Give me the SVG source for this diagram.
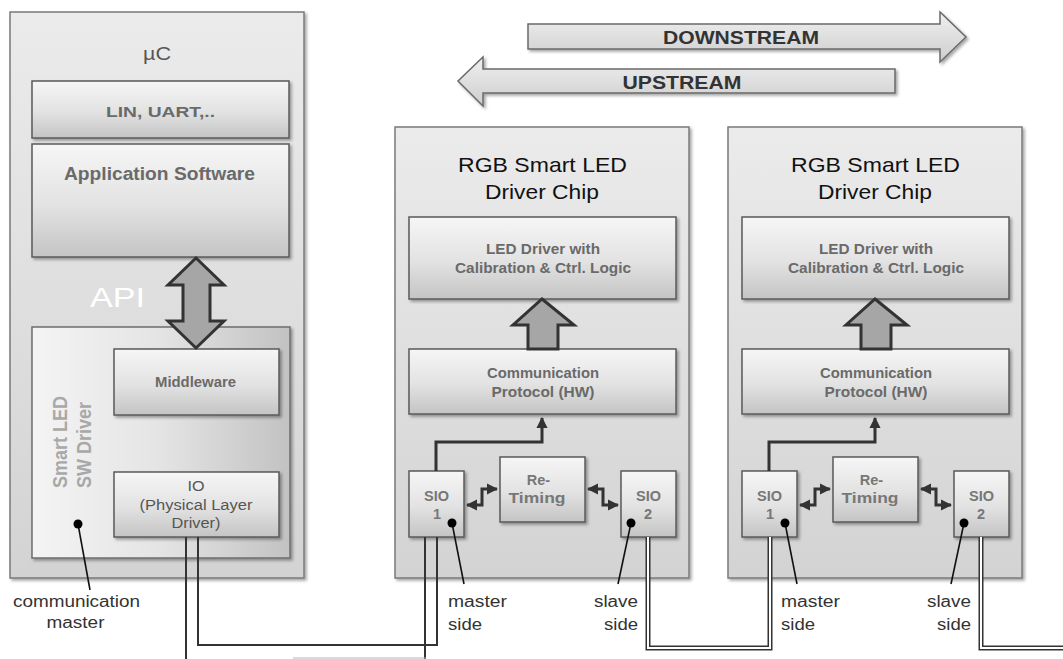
<svg xmlns="http://www.w3.org/2000/svg" width="1063" height="659" viewBox="0 0 1063 659">
<defs>
<linearGradient id="gOuter" x1="0" y1="0" x2="0" y2="1"><stop offset="0" stop-color="#ebebeb"/><stop offset="1" stop-color="#d3d3d3"/></linearGradient>
<linearGradient id="gInner" x1="0" y1="0" x2="0" y2="1"><stop offset="0" stop-color="#f6f6f6"/><stop offset="0.55" stop-color="#e2e2e2"/><stop offset="1" stop-color="#c4c4c4"/></linearGradient>
<linearGradient id="gSide" x1="0" y1="0" x2="1" y2="0"><stop offset="0" stop-color="#f4f4f4"/><stop offset="0.5" stop-color="#e4e4e4"/><stop offset="1" stop-color="#c2c2c2"/></linearGradient>
<linearGradient id="gFlow" x1="0" y1="0" x2="0" y2="1"><stop offset="0" stop-color="#f0f0f0"/><stop offset="1" stop-color="#cdcdcd"/></linearGradient>
<filter id="sh" x="-10%" y="-10%" width="130%" height="130%"><feDropShadow dx="2" dy="2" stdDeviation="1.5" flood-color="#000" flood-opacity="0.35"/></filter>
<marker id="ah" viewBox="0 0 10 10" refX="9" refY="5" markerWidth="3.8" markerHeight="3.8" orient="auto-start-reverse"><path d="M0,0 L10,5 L0,10 z" fill="#333"/></marker>
<style>
.outer{fill:url(#gOuter);stroke:#7a7a7a;stroke-width:1.5;filter:url(#sh)}
.inner{fill:url(#gInner);stroke:#5a5a5a;stroke-width:1.5;filter:url(#sh)}
.side{fill:url(#gSide);stroke:#6e6e6e;stroke-width:1.5;filter:url(#sh)}
.flow{fill:url(#gFlow);stroke:#6a6a6a;stroke-width:1.5;filter:url(#sh)}
.fat{fill:#a6a6a6;stroke:#333;stroke-width:3;stroke-linejoin:miter}
.t{font-family:"Liberation Sans",Arial,sans-serif;text-anchor:middle}
.b{font-weight:bold;fill:#6a6a6a}
.s{font-size:14.5px;fill:#777}
.lbl{font-family:"Liberation Sans",Arial,sans-serif;font-size:16px;fill:#333}
.w1{fill:none;stroke:#333;stroke-width:2}
.wd{fill:none;stroke:#333;stroke-width:5}
.wi{fill:none;stroke:#fff;stroke-width:2}
.arr{fill:none;stroke:#333;stroke-width:3}
.ptr{stroke:#111;stroke-width:1.6}
</style>
</defs>

<g id="flow-arrows">
<g id="downstream">
<path class="flow" d="M528,24 H940 V12 L966,37 L940,62 V49 H528 Z"/>
<text class="t" x="741" y="44" font-size="18" font-weight="bold" fill="#333" textLength="156" lengthAdjust="spacingAndGlyphs">DOWNSTREAM</text>
</g>
<g id="upstream">
<path class="flow" d="M895,69 H483 V57 L458,81 L483,106 V93 H895 Z"/>
<text class="t" x="682" y="89" font-size="18" font-weight="bold" fill="#333" textLength="119" lengthAdjust="spacingAndGlyphs">UPSTREAM</text>
</g>
</g>

<g id="uc">
<rect class="outer" x="10" y="12" width="294" height="566"/>
<text class="t" x="157" y="60" font-size="18" fill="#555" textLength="28" lengthAdjust="spacingAndGlyphs">µC</text>
</g>
<g id="lin-uart">
<rect class="inner" x="32" y="81" width="257" height="57"/>
<text class="t b" x="160.5" y="117" font-size="15" fill="#555" textLength="109" lengthAdjust="spacingAndGlyphs">LIN, UART,..</text>
</g>
<g id="app-sw">
<rect class="inner" x="32" y="144" width="257" height="113"/>
<text class="t b" x="159.5" y="180" font-size="18" textLength="191" lengthAdjust="spacingAndGlyphs">Application Software</text>
</g>
<g id="api-label">
<text class="t" x="117.5" y="307" font-size="28" fill="#fff" textLength="55" lengthAdjust="spacingAndGlyphs">API</text>
</g>
<g id="sw-driver">
<rect class="side" x="32" y="327" width="258" height="231"/>
<text class="t" x="0" y="0" font-size="18" font-weight="bold" fill="#a8a8a8" transform="translate(67,442) rotate(-90) scale(1,1.15)">Smart LED</text>
<text class="t" x="0" y="0" font-size="18" font-weight="bold" fill="#a8a8a8" transform="translate(91,445) rotate(-90) scale(1,1.15)">SW Driver</text>
</g>
<g id="middleware">
<rect class="inner" x="114" y="349" width="165" height="66"/>
<text class="t b" x="195.5" y="387" font-size="14" textLength="81" lengthAdjust="spacingAndGlyphs">Middleware</text>
</g>
<g id="io">
<rect class="inner" x="114" y="472" width="165" height="65"/>
<text class="t" x="196" y="491" font-size="14" fill="#555" textLength="17" lengthAdjust="spacingAndGlyphs">IO</text>
<text class="t" x="196" y="510" font-size="14" fill="#555" textLength="113" lengthAdjust="spacingAndGlyphs">(Physical Layer</text>
<text class="t" x="196" y="528" font-size="14" fill="#555" textLength="49" lengthAdjust="spacingAndGlyphs">Driver)</text>
</g>
<g id="comm-master-label">
<text class="lbl t" x="76.5" y="607" textLength="127" lengthAdjust="spacingAndGlyphs">communication</text>
<text class="lbl t" x="75.5" y="628" textLength="58" lengthAdjust="spacingAndGlyphs">master</text>
</g>

<g id="chip1">
<rect class="outer" x="395" y="127" width="294" height="451"/>
<text class="t" x="542.5" y="172" font-size="21" fill="#111" textLength="169" lengthAdjust="spacingAndGlyphs">RGB Smart LED</text>
<text class="t" x="542" y="199" font-size="21" fill="#111" textLength="114" lengthAdjust="spacingAndGlyphs">Driver Chip</text>
</g>
<g id="chip1-led">
<rect class="inner" x="409" y="217" width="267" height="82"/>
<text class="t b" x="543" y="254" font-size="14" fill="#7a7a7a" textLength="114" lengthAdjust="spacingAndGlyphs">LED Driver with</text>
<text class="t b" x="543" y="273" font-size="14" fill="#7a7a7a" textLength="176" lengthAdjust="spacingAndGlyphs">Calibration &amp; Ctrl. Logic</text>
</g>
<g id="chip1-proto">
<rect class="inner" x="409" y="349" width="267" height="65"/>
<text class="t b" x="543" y="378" font-size="14" fill="#7a7a7a" textLength="112" lengthAdjust="spacingAndGlyphs">Communication</text>
<text class="t b" x="543" y="397" font-size="14" fill="#7a7a7a" textLength="103" lengthAdjust="spacingAndGlyphs">Protocol (HW)</text>
</g>
<g id="chip1-sio1">
<rect class="inner" x="409" y="471" width="55" height="66"/>
<text class="t b s" x="436.5" y="501">SIO</text>
<text class="t b s" x="437" y="519">1</text>
</g>
<g id="chip1-retiming">
<rect class="inner" x="500" y="457" width="85" height="65"/>
<text class="t b s" x="538.5" y="485">Re-</text>
<text class="t b s" x="537" y="503" textLength="57" lengthAdjust="spacingAndGlyphs">Timing</text>
</g>
<g id="chip1-sio2">
<rect class="inner" x="621" y="471" width="55" height="66"/>
<text class="t b s" x="648.5" y="501">SIO</text>
<text class="t b s" x="648" y="519">2</text>
</g>
<g id="chip1-labels">
<text class="lbl" x="448" y="607" textLength="59" lengthAdjust="spacingAndGlyphs">master</text>
<text class="lbl" x="448" y="630" textLength="34" lengthAdjust="spacingAndGlyphs">side</text>
<text class="lbl" x="638" y="607" text-anchor="end" textLength="44" lengthAdjust="spacingAndGlyphs">slave</text>
<text class="lbl" x="638" y="630" text-anchor="end" textLength="34" lengthAdjust="spacingAndGlyphs">side</text>
</g>

<g id="chip2">
<rect class="outer" x="728" y="127" width="294" height="451"/>
<text class="t" x="875.5" y="172" font-size="21" fill="#111" textLength="169" lengthAdjust="spacingAndGlyphs">RGB Smart LED</text>
<text class="t" x="875" y="199" font-size="21" fill="#111" textLength="114" lengthAdjust="spacingAndGlyphs">Driver Chip</text>
</g>
<g id="chip2-led">
<rect class="inner" x="742" y="217" width="267" height="82"/>
<text class="t b" x="876" y="254" font-size="14" fill="#7a7a7a" textLength="114" lengthAdjust="spacingAndGlyphs">LED Driver with</text>
<text class="t b" x="876" y="273" font-size="14" fill="#7a7a7a" textLength="176" lengthAdjust="spacingAndGlyphs">Calibration &amp; Ctrl. Logic</text>
</g>
<g id="chip2-proto">
<rect class="inner" x="742" y="349" width="267" height="65"/>
<text class="t b" x="876" y="378" font-size="14" fill="#7a7a7a" textLength="112" lengthAdjust="spacingAndGlyphs">Communication</text>
<text class="t b" x="876" y="397" font-size="14" fill="#7a7a7a" textLength="103" lengthAdjust="spacingAndGlyphs">Protocol (HW)</text>
</g>
<g id="chip2-sio1">
<rect class="inner" x="742" y="471" width="55" height="66"/>
<text class="t b s" x="769.5" y="501">SIO</text>
<text class="t b s" x="770" y="519">1</text>
</g>
<g id="chip2-retiming">
<rect class="inner" x="833" y="457" width="85" height="65"/>
<text class="t b s" x="871.5" y="485">Re-</text>
<text class="t b s" x="870" y="503" textLength="57" lengthAdjust="spacingAndGlyphs">Timing</text>
</g>
<g id="chip2-sio2">
<rect class="inner" x="954" y="471" width="55" height="66"/>
<text class="t b s" x="981.5" y="501">SIO</text>
<text class="t b s" x="981" y="519">2</text>
</g>
<g id="chip2-labels">
<text class="lbl" x="781" y="607" textLength="59" lengthAdjust="spacingAndGlyphs">master</text>
<text class="lbl" x="781" y="630" textLength="34" lengthAdjust="spacingAndGlyphs">side</text>
<text class="lbl" x="971" y="607" text-anchor="end" textLength="44" lengthAdjust="spacingAndGlyphs">slave</text>
<text class="lbl" x="971" y="630" text-anchor="end" textLength="34" lengthAdjust="spacingAndGlyphs">side</text>
</g>

<g id="connectors">
<path class="fat" d="M196,258 L224,285 H210 V321 H224 L196,348 L168,321 H183 V285 H168 Z"/>
<path class="fat" d="M542,299 L574,325 H558 V349 H528 V325 H513 Z"/>
<path class="fat" d="M875,299 L907,325 H891 V349 H861 V325 H846 Z"/>

<path class="arr" d="M436,471 V442 H542 V418" marker-end="url(#ah)"/>
<path class="arr" d="M467,505 H482 V489 H497" marker-start="url(#ah)" marker-end="url(#ah)"/>
<path class="arr" d="M588,489 H603 V505 H618" marker-start="url(#ah)" marker-end="url(#ah)"/>
<path class="arr" d="M769,471 V442 H875 V418" marker-end="url(#ah)"/>
<path class="arr" d="M800,505 H815 V489 H830" marker-start="url(#ah)" marker-end="url(#ah)"/>
<path class="arr" d="M921,489 H936 V505 H951" marker-start="url(#ah)" marker-end="url(#ah)"/>

<path class="w1" d="M186,537 V660"/>
<path class="w1" d="M198,537 V645 H437 V537"/>
<path class="w1" d="M425,537 V660"/>
<path d="M293,658 H426" stroke="#b5b5b5" stroke-width="1.2"/>
<path class="wd" d="M648,537 V648 H770 V537"/>
<path class="wi" d="M648,537 V648 H770 V537"/>
<path class="wd" d="M981,537 V648 H1064"/>
<path class="wi" d="M981,537 V648 H1064"/>

<line class="ptr" x1="78" y1="524" x2="90" y2="590"/>
<circle cx="78" cy="524" r="4.5" fill="#000"/>
<line class="ptr" x1="452" y1="523" x2="464" y2="584"/>
<circle cx="452" cy="523" r="4.5" fill="#000"/>
<line class="ptr" x1="631" y1="523" x2="618" y2="584"/>
<circle cx="631" cy="523" r="4.5" fill="#000"/>
<line class="ptr" x1="785" y1="523" x2="797" y2="584"/>
<circle cx="785" cy="523" r="4.5" fill="#000"/>
<line class="ptr" x1="964" y1="523" x2="951" y2="584"/>
<circle cx="964" cy="523" r="4.5" fill="#000"/>
</g>
</svg>
